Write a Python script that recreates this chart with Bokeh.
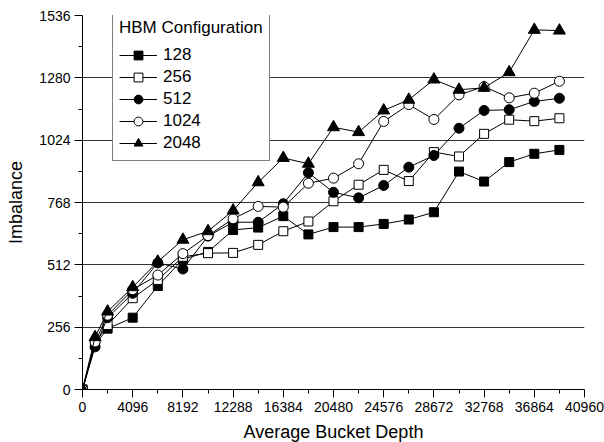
from bokeh.plotting import figure
from bokeh.models import FixedTicker, Range1d, Legend, LegendItem
from bokeh.embed import file_html
from bokeh.resources import INLINE

depth = [0, 1024, 2048, 4096, 6144, 8192, 10240, 12288, 14336, 16384, 18432,
         20480, 22528, 24576, 26624, 28672, 30720, 32768, 34816, 36864, 38912]
hbm_128 = [0, 185, 250, 295, 425, 535, 565, 655, 665, 712, 637, 667, 667, 680, 698, 728, 895, 854, 934, 968, 984]
hbm_256 = [0, 190, 265, 375, 450, 545, 560, 561, 594, 650, 690, 773, 841, 902, 856, 975, 957, 1050, 1108, 1102, 1114]
hbm_512 = [0, 175, 295, 395, 520, 495, 630, 687, 687, 763, 890, 810, 787, 838, 913, 961, 1073, 1146, 1149, 1183, 1196]
hbm_1024 = [0, 195, 305, 410, 470, 558, 632, 701, 752, 749, 847, 868, 927, 1101, 1170, 1109, 1210, 1244, 1198, 1217, 1266]
hbm_2048 = [0, 215, 320, 420, 525, 615, 650, 735, 851, 951, 927, 1077, 1057, 1146, 1190, 1273, 1231, 1239, 1303, 1477, 1474]

series_labels = ["128", "256", "512", "1024", "2048"]
x_ticks = [0, 4096, 8192, 12288, 16384, 20480, 24576, 28672, 32768, 36864, 40960]
x_minor = [2048, 6144, 10240, 14336, 18432, 22528, 26624, 30720, 34816, 38912]
y_ticks = [0, 256, 512, 768, 1024, 1280, 1536]
y_minor = [128, 384, 640, 896, 1152, 1408]
grid_ticks = [256, 512, 768, 1024, 1280]

FONT = "Liberation Sans"

p = figure(frame_width=502, frame_height=374, output_backend="svg", toolbar_location=None,
           x_range=Range1d(0, 40960), y_range=Range1d(0, 1536),
           min_border_left=82, min_border_right=20, min_border_top=15, min_border_bottom=53)
p.outline_line_color = None
p.background_fill_color = "white"
p.border_fill_color = "white"

p.xgrid.visible = False
p.ygrid.ticker = FixedTicker(ticks=grid_ticks)
p.ygrid.grid_line_color = "#333333"
p.ygrid.grid_line_width = 1

p.xaxis.ticker = FixedTicker(ticks=x_ticks, minor_ticks=x_minor)
p.yaxis.ticker = FixedTicker(ticks=y_ticks, minor_ticks=y_minor)
for ax in (p.xaxis[0], p.yaxis[0]):
    ax.major_tick_in = 0
    ax.major_tick_out = 8
    ax.minor_tick_in = 0
    ax.minor_tick_out = 4
    ax.axis_line_color = "black"
    ax.major_tick_line_color = "black"
    ax.minor_tick_line_color = "black"
    ax.major_label_text_font = FONT
    ax.major_label_text_font_size = "14px"
    ax.major_label_text_color = "black"
    ax.axis_label_text_font = FONT
    ax.axis_label_text_font_size = "18px"
    ax.axis_label_text_font_style = "normal"
    ax.axis_label_text_color = "black"
p.xaxis.axis_label = "Average Bucket Depth"
p.yaxis.axis_label = "Imbalance"
p.xaxis.major_label_standoff = 4
p.yaxis.major_label_standoff = 4
p.xaxis.axis_label_standoff = 7
p.yaxis.axis_label_standoff = 10

data = [hbm_128, hbm_256, hbm_512, hbm_1024, hbm_2048]
styles = [
    dict(marker="square", fill_color="black", size=9),
    dict(marker="square", fill_color="white", size=9),
    dict(marker="circle", fill_color="black", size=10),
    dict(marker="circle", fill_color="white", size=10),
    dict(marker="triangle", fill_color="black", size=12),
]
items = []
for lab, ys, st in zip(series_labels, data, styles):
    ln = p.line(depth, ys, line_color="black", line_width=1)
    sc = p.scatter(depth, ys, marker=st["marker"], size=st["size"],
                   fill_color=st["fill_color"], line_color="black", line_width=1)
    items.append(LegendItem(label=lab, renderers=[ln, sc]))

legend = Legend(items=items, location=(30, 228), title="HBM Configuration")
legend.title_text_font = FONT
legend.title_text_font_size = "17px"
legend.title_text_font_style = "normal"
legend.title_text_color = "black"
legend.title_standoff = 6
legend.label_text_font = FONT
legend.label_text_font_size = "17px"
legend.label_text_color = "black"
legend.border_line_color = "black"
legend.border_line_width = 1
legend.background_fill_alpha = 1
legend.glyph_width = 38
legend.glyph_height = 22
legend.spacing = 0
legend.label_standoff = 6
legend.padding = 6
legend.margin = 0
legend.label_height = 22
p.add_layout(legend, "center")

open("out.html", "w").write(file_html(p, INLINE))
